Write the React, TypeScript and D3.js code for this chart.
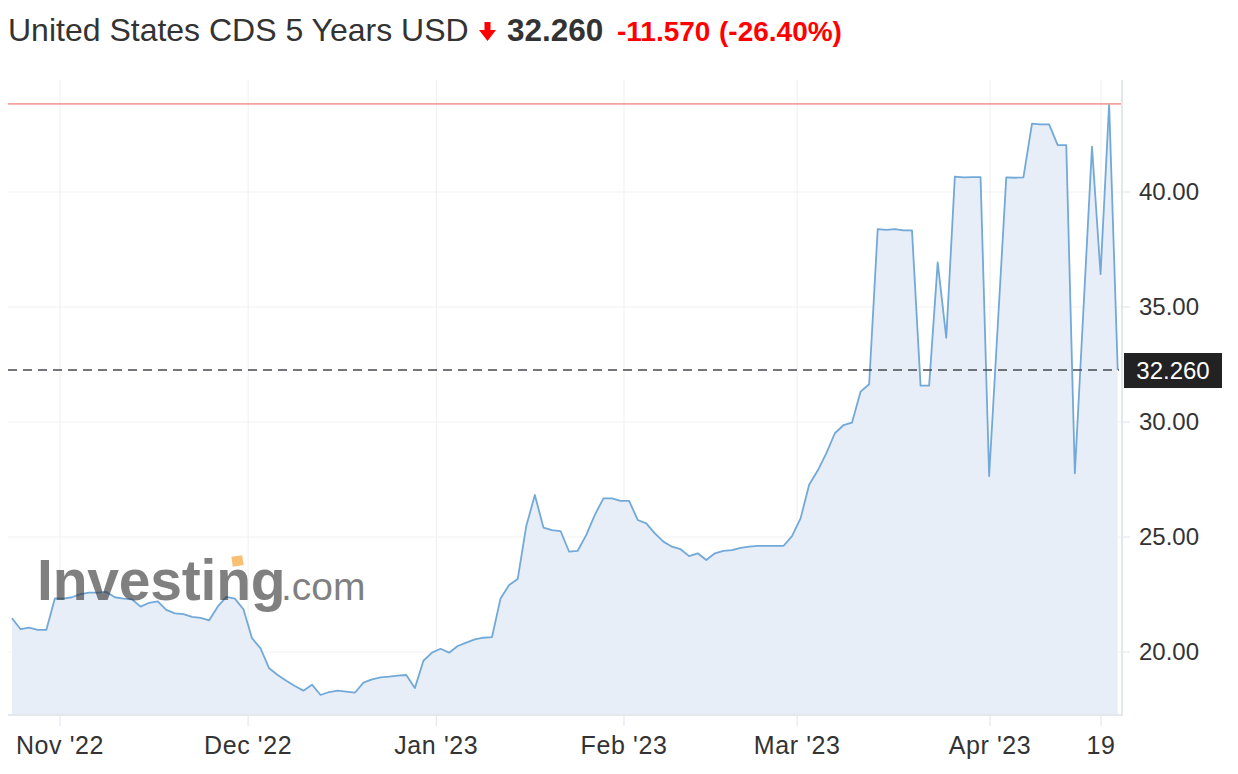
import React from "react";
import * as d3 from "d3";

// CDS 5Y USD daily closes (trading days)
const values: number[] = [
  21.47, 20.99, 21.06, 20.96, 20.96, 22.33, 22.32, 22.38, 22.52, 22.58,
  22.58, 22.61, 22.38, 22.32, 22.29, 21.97, 22.14, 22.2, 21.83, 21.68,
  21.65, 21.53, 21.48, 21.38, 21.97, 22.4, 22.32, 21.86, 20.6, 20.16,
  19.29, 19.0, 18.75, 18.52, 18.32, 18.58, 18.13, 18.26, 18.32, 18.28,
  18.23, 18.67, 18.81, 18.9, 18.93, 18.97, 19.0, 18.43, 19.62, 19.97,
  20.14, 19.97, 20.26,
  20.41, 20.55, 20.62, 20.65, 22.33, 22.91, 23.17, 25.48, 26.83, 25.41,
  25.3, 25.26, 24.36, 24.4, 25.09, 25.96, 26.68, 26.68, 26.57, 26.57, 25.74,
  25.59, 25.16, 24.8, 24.58, 24.47, 24.17, 24.29, 24.0, 24.29, 24.4,
  24.43, 24.53, 24.58, 24.61, 24.61, 24.61, 24.61, 25.04, 25.81, 27.27, 27.89,
  28.64, 29.51, 29.86, 29.97, 31.32, 31.64, 38.39, 38.35, 38.39, 38.33,
  38.33, 31.58, 31.58, 36.94, 33.66,
  40.67, 40.64, 40.65, 40.65, 27.65, 34.15, 40.64, 40.62, 40.64, 42.97,
  42.94, 42.94, 42.04, 42.04, 27.77, 34.87, 41.97, 36.43, 43.83, 32.26,
];

const xTickLabels: string[] = ["Nov '22", "Dec '22", "Jan '23", "Feb '23", "Mar '23", "Apr '23", "19"];
// position of each tick on the trading-day index
const xTickIndex: number[] = [5.6, 27.55, 49.5, 71.4, 91.6, 114.1, 127.05];
const yTicks: number[] = [20, 25, 30, 35, 40];

const lastValue = 32.26;
const highValue = 43.83;
const change = -11.57;
const changePct = -26.4;

const FONT = "'Liberation Sans', Arial, Helvetica, sans-serif";

// plain hyphen-minus, as in the reference
const fmtSigned = (v: number, digits: number) => (v < 0 ? "-" : "") + Math.abs(v).toFixed(digits);

export default function App() {
  const W = 1238;
  const H = 774;
  const plotLeft = 8;
  const plotRight = 1122;
  const plotTop = 80;
  const plotBottom = 715;

  const x = d3.scaleLinear().domain([0, values.length - 1]).range([12, 1117.7]);
  const y = d3.scaleLinear().domain([20, 40]).range([652, 192]);

  const line = d3
    .line<number>()
    .x((_, i) => x(i))
    .y((d) => y(d));
  const area = d3
    .area<number>()
    .x((_, i) => x(i))
    .y0(plotBottom)
    .y1((d) => y(d));

  const fmt2 = d3.format(".2f");
  const fmt3 = d3.format(".3f");

  return (
    <svg
      width={W}
      height={H}
      viewBox={`0 0 ${W} ${H}`}
      style={{ position: "absolute", left: 0, top: 0, background: "#fff" }}
      fontFamily={FONT}
    >
      {/* Title */}
      <text x={8} y={41} fontSize={32} fill="#333">
        United States CDS 5 Years USD
      </text>
      <path d="M484.5,22 H490.5 V30 H496 L487.5,41 L479,30 H484.5 Z" fill="#f00" />
      <text x={507} y={41} fontSize={31.5} fontWeight="bold" fill="#333">
        {fmt3(lastValue)}
      </text>
      <text x={617} y={41} fontSize={28} fontWeight="bold" fill="#f00">
        {fmtSigned(change, 3)}
      </text>
      <text x={719} y={41} fontSize={28} fontWeight="bold" fill="#f00">
        {`(${fmtSigned(changePct, 2)}%)`}
      </text>

      {/* Gridlines */}
      {yTicks.map((t) => (
        <line key={"hg" + t} x1={plotLeft} x2={plotRight} y1={y(t)} y2={y(t)} stroke="#f1f2f4" strokeWidth={1.2} />
      ))}
      {xTickIndex.map((t, i) => (
        <line key={"vg" + i} x1={x(t)} x2={x(t)} y1={plotTop} y2={plotBottom} stroke="#f1f2f4" strokeWidth={1.2} />
      ))}

      {/* Area + line */}
      <path d={area(values) || ""} fill="#e7eef7" />
      <path d={line(values) || ""} fill="none" stroke="#72a9d8" strokeWidth={1.8} strokeLinejoin="round" />

      {/* Watermark */}
      <g opacity={0.62}>
        <text x={37} y={600} fontSize={57} fontWeight="bold" fill="#333" letterSpacing={-0.2}>
          Investing
        </text>
        <text x={281} y={600} fontSize={39} fill="#333">
          .com
        </text>
      </g>
      <rect x={232} y={556} width={11} height={10} fill="#f8b55c" opacity={0.85} transform="rotate(-8 237 561)" />

      {/* High line */}
      <line x1={plotLeft} x2={plotRight} y1={y(highValue)} y2={y(highValue)} stroke="#f4a29c" strokeWidth={1.6} />

      {/* Last value dashed line */}
      <line
        x1={plotLeft}
        x2={1119}
        y1={y(lastValue)}
        y2={y(lastValue)}
        stroke="#474a50"
        strokeWidth={1.6}
        strokeDasharray="9 6"
      />

      {/* Axes */}
      <line x1={plotLeft} x2={plotRight + 1} y1={plotBottom} y2={plotBottom} stroke="#e3e7ee" strokeWidth={2} />
      <line x1={plotRight} x2={plotRight} y1={plotTop} y2={plotBottom} stroke="#e3e7ee" strokeWidth={2} />
      {xTickIndex.map((t, i) => (
        <g key={"xt" + i}>
          <line x1={x(t)} x2={x(t)} y1={plotBottom} y2={726} stroke="#e3e7ee" strokeWidth={1.2} />
          <text x={x(t)} y={754} fontSize={25} fill="#333" textAnchor="middle" letterSpacing={0.6}>
            {xTickLabels[i]}
          </text>
        </g>
      ))}
      {yTicks.map((t) => (
        <g key={"yt" + t}>
          <line x1={plotRight} x2={plotRight + 8} y1={y(t)} y2={y(t)} stroke="#e3e7ee" strokeWidth={1.2} />
          <text x={1139} y={y(t) + 8} fontSize={24} fill="#333">
            {fmt2(t)}
          </text>
        </g>
      ))}

      {/* Last value label */}
      <rect x={1124} y={y(lastValue) - 17} width={98} height={35} fill="#222" />
      <text x={1173} y={y(lastValue) + 8.5} fontSize={24} fill="#fff" textAnchor="middle">
        {fmt3(lastValue)}
      </text>
    </svg>
  );
}
